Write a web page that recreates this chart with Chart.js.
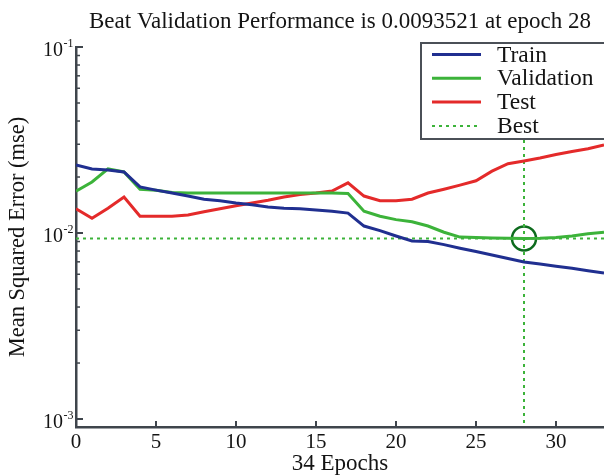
<!DOCTYPE html>
<html>
<head>
<meta charset="utf-8">
<script src="https://cdn.jsdelivr.net/npm/chart.js@4.4.0/dist/chart.umd.min.js"></script>
<style>
  html, body { margin: 0; padding: 0; background: #fff; overflow: hidden; }
  #wrap { width: 604px; height: 475px; }
  canvas { display: block; }
</style>
</head>
<body>
<div id="wrap"><canvas id="perf"></canvas></div>
<script>
// 学習曲線のデータ
const epochs = [0, 1, 2, 3, 4, 5, 6, 7, 8, 9, 10, 11, 12, 13, 14, 15, 16, 17,
  18, 19, 20, 21, 22, 23, 24, 25, 26, 27, 28, 29, 30, 31, 32, 33, 34]
const trainPerf = [0.0232, 0.0221, 0.0218, 0.0213, 0.0177, 0.0170, 0.0164, 0.0158, 0.0152,
  0.0149, 0.0145, 0.0142, 0.0138, 0.0136, 0.0135, 0.0133, 0.0131, 0.0128,
  0.0109, 0.0103, 0.00964, 0.00906, 0.00900, 0.00866, 0.00828, 0.00795, 0.00762,
  0.00730, 0.00698, 0.00681, 0.00662, 0.00646, 0.00627, 0.00610, 0.00594]
const valPerf = [0.0168, 0.0188, 0.0221, 0.0213, 0.0172, 0.0170, 0.0165, 0.0164, 0.0164,
  0.0164, 0.0164, 0.0164, 0.0164, 0.0164, 0.0164, 0.0164, 0.0164, 0.0163,
  0.0131, 0.0123, 0.0118, 0.0115, 0.0109, 0.0101, 0.00951, 0.00945, 0.00940,
  0.00937, 0.0093521, 0.00938, 0.00945, 0.00964, 0.00990, 0.0101, 0.0104]
const testPerf = [0.0135, 0.0120, 0.0136, 0.0156, 0.0123, 0.0123, 0.0123, 0.0125, 0.0130,
  0.0135, 0.0140, 0.0145, 0.0150, 0.0156, 0.0161, 0.0164, 0.0168, 0.0186,
  0.0158, 0.0149, 0.0149, 0.0152, 0.0164, 0.0172, 0.0181, 0.0191, 0.0215,
  0.0236, 0.0244, 0.0253, 0.0264, 0.0274, 0.0284, 0.0297, 0.0308]
const bestEpoch = 28
const bestPerf = 0.0093521
const xTicks = [0, 5, 10, 15, 20, 25, 30]
const yTicks = [1e-3, 1e-2, 1e-1]
const yTickExp = ['-3', '-2', '-1']
const legendNames = ['Train', 'Validation', 'Test', 'Best']

const FONT = "'Liberation Serif', 'Times New Roman', serif"
const AXIS_COLOR = '#3f454c'
const TEXT_COLOR = '#141414'
const GREEN = '#3cb33a'

const toPoints = (ys) => epochs.map((e, i) => ({ x: e, y: ys[i] }))

// 内向きの目盛り線と y 軸の 10^n ラベルを描く
const innerTicks = {
  id: 'innerTicks',
  afterDraw(chart) {
    const { ctx, chartArea } = chart
    const xs = chart.scales.x
    const ys = chart.scales.y
    ctx.save()
    ctx.strokeStyle = AXIS_COLOR
    ctx.lineWidth = 2
    xTicks.forEach(v => {
      const px = xs.getPixelForValue(v)
      ctx.beginPath()
      ctx.moveTo(px, chartArea.bottom)
      ctx.lineTo(px, chartArea.bottom - 6)
      ctx.stroke()
    })
    ctx.lineWidth = 1.5
    for (let n = -4; n <= -2; n++) {
      for (let k = 2; k <= 9; k++) {
        const v = k * Math.pow(10, n)
        if (v < ys.min || v > ys.max) continue
        const py = ys.getPixelForValue(v)
        ctx.beginPath()
        ctx.moveTo(chartArea.left, py)
        ctx.lineTo(chartArea.left + 4, py)
        ctx.stroke()
      }
    }
    ctx.lineWidth = 2
    ctx.fillStyle = TEXT_COLOR
    yTicks.forEach((v, i) => {
      const py = ys.getPixelForValue(v)
      ctx.beginPath()
      ctx.moveTo(chartArea.left, py)
      ctx.lineTo(chartArea.left + 7, py)
      ctx.stroke()
      ctx.textBaseline = 'middle'
      ctx.textAlign = 'right'
      ctx.font = `20px ${FONT}`
      ctx.fillText('10', 63, py + 4)
      ctx.textAlign = 'left'
      ctx.font = `12px ${FONT}`
      ctx.fillText(yTickExp[i], 63.5, py - 3)
    })
    ctx.restore()
  }
}

// グラフ内の凡例ボックス
const legendBox = {
  id: 'legendBox',
  afterDraw(chart) {
    const ctx = chart.ctx
    ctx.save()
    ctx.fillStyle = '#fff'
    ctx.fillRect(421, 43, 200, 96)
    ctx.strokeStyle = '#4b5057'
    ctx.lineWidth = 2
    ctx.strokeRect(421, 43, 200, 96)
    legendNames.forEach((name, i) => {
      const ds = chart.data.datasets[i]
      const y = 54.5 + i * 23.8
      ctx.strokeStyle = ds.borderColor
      ctx.lineWidth = ds.borderWidth
      ctx.setLineDash(ds.borderDash || [])
      ctx.beginPath()
      ctx.moveTo(432, y)
      ctx.lineTo(481, y)
      ctx.stroke()
      ctx.setLineDash([])
      ctx.fillStyle = TEXT_COLOR
      ctx.font = `23.5px ${FONT}`
      ctx.textBaseline = 'middle'
      ctx.textAlign = 'left'
      ctx.fillText(name, 497, y + 1)
    })
    ctx.restore()
  }
}

const ctx = document.getElementById('perf').getContext('2d')
new Chart(ctx, {
  type: 'line',
  data: {
    datasets: [
      {
        label: 'Train',
        data: toPoints(trainPerf),
        borderColor: '#202f90',
        borderWidth: 3,
        pointRadius: 0,
        tension: 0
      },
      {
        label: 'Validation',
        data: toPoints(valPerf),
        borderColor: GREEN,
        borderWidth: 3,
        pointRadius: 0,
        tension: 0
      },
      {
        label: 'Test',
        data: toPoints(testPerf),
        borderColor: '#e42a2a',
        borderWidth: 3,
        pointRadius: 0,
        tension: 0
      },
      {
        label: 'Best',
        data: [{ x: 0, y: bestPerf }, { x: 34, y: bestPerf }],
        borderColor: GREEN,
        borderWidth: 2,
        borderDash: [3, 4],
        pointRadius: 0
      },
      {
        label: 'Best epoch',
        data: [{ x: bestEpoch, y: 1e-4 }, { x: bestEpoch, y: 1 }],
        borderColor: GREEN,
        borderWidth: 2,
        borderDash: [3, 4],
        pointRadius: 0
      },
      {
        label: 'Best point',
        data: [{ x: bestEpoch, y: bestPerf }],
        showLine: false,
        pointRadius: 12,
        pointBorderWidth: 2.5,
        pointBorderColor: '#0d6b1d',
        pointBackgroundColor: 'rgba(0,0,0,0)'
      }
    ]
  },
  options: {
    responsive: true,
    maintainAspectRatio: false,
    animation: false,
    // 点の半径ぶんの自動余白を切る (右端まで描画エリアにする)
    layout: { padding: 0, autoPadding: false },
    plugins: {
      legend: { display: false },
      tooltip: { enabled: false },
      title: {
        display: true,
        text: 'Beat Validation Performance is 0.0093521 at epoch 28',
        fullSize: false,
        color: TEXT_COLOR,
        font: { family: FONT, size: 23, weight: 'normal' },
        padding: { top: 8.5, bottom: 10.9 }
      }
    },
    scales: {
      x: {
        type: 'linear',
        min: 0,
        max: 33.0,
        afterBuildTicks: (s) => { s.ticks = xTicks.map(v => ({ value: v })) },
        afterFit: (s) => {
          s.height = 48
          s.paddingLeft = 0
          s.paddingRight = 0
        },
        grid: { display: false, drawTicks: false },
        border: { display: true, color: AXIS_COLOR, width: 2.5 },
        ticks: {
          color: TEXT_COLOR,
          font: { family: FONT, size: 21, lineHeight: 1 },
          padding: 5,
          maxRotation: 0
        },
        title: {
          display: true,
          text: '34 Epochs',
          color: TEXT_COLOR,
          font: { family: FONT, size: 23, lineHeight: 1 },
          padding: { top: 0, bottom: 0 }
        }
      },
      y: {
        type: 'logarithmic',
        min: 0.000906,
        max: 0.1,
        afterBuildTicks: (s) => { s.ticks = yTicks.map(v => ({ value: v })) },
        afterFit: (s) => {
          s.width = 76
          s.paddingTop = 0
          s.paddingBottom = 0
        },
        grid: { display: false, drawTicks: false },
        border: { display: true, color: AXIS_COLOR, width: 2.5 },
        ticks: { display: false },
        title: {
          display: true,
          text: 'Mean Squared Error (mse)',
          color: TEXT_COLOR,
          font: { family: FONT, size: 22.5, lineHeight: 1.2 },
          padding: { top: 5, bottom: 0 }
        }
      }
    }
  },
  plugins: [innerTicks, legendBox]
})
</script>
</body>
</html>
